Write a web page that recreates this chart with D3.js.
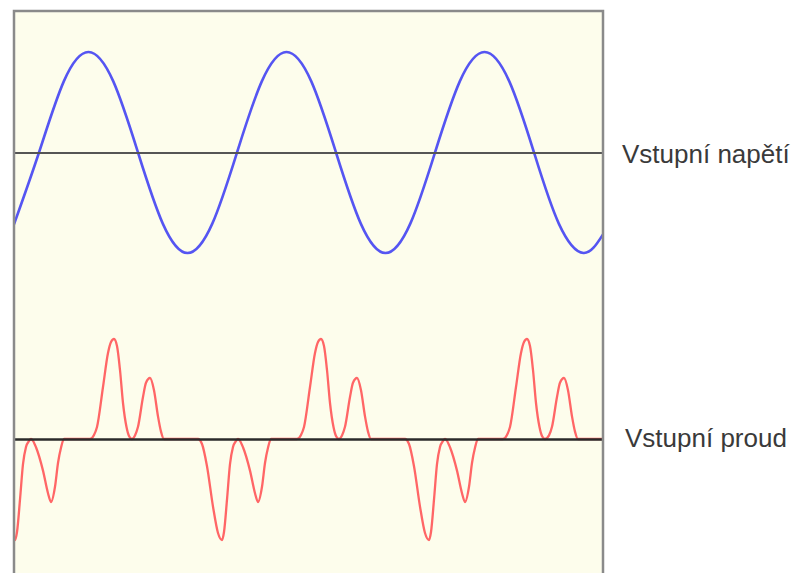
<!DOCTYPE html>
<html>
<head>
<meta charset="utf-8">
<script src="https://cdn.jsdelivr.net/npm/d3@7"></script>
<style>
    body { margin: 0; background: #fff; }
    svg { display: block; }
    .label { font-family: "Liberation Sans", Arial, sans-serif; font-size: 26px; fill: #3a3a3a; }
</style>
</head>
<body>
<div id="chart"></div>
<script>
// time in ms, voltage in V, current in A
const voltageTime = [0, 2.5, 4.98, 7.45, 9.93, 12.4, 14.88, 17.35, 19.83, 22.3, 24.78, 27.25, 29.73,
    32.2, 34.68, 37.15, 39.63, 42.1, 44.58, 47.05, 49.53, 52.0, 54.48, 56.95, 58.9];
const voltageValues = [-232, 0, 230, 325, 230, 0, -230, -325, -230, 0, 230, 325, 230,
    0, -230, -325, -230, 0, 230, 325, 230, 0, -230, -325, -265];

const currentTime = [
    0, 0.1, 0.3, 0.6, 0.9, 1.2, 1.5, 1.7,
    1.9, 2.2, 2.9, 3.4, 3.7, 4.1, 4.4, 4.7, 5.0,
    7.6, 8.0, 8.3, 8.9, 9.4, 9.7, 10.0, 10.3, 10.6, 10.9, 11.25, 11.5, 11.8,
    12.1, 12.4, 12.9, 13.2, 13.6, 14.0, 14.4, 14.7, 15.0,
    18.4, 18.8, 19.3, 19.9, 20.4, 20.8, 21.0, 21.3, 21.6, 21.9, 22.2, 22.4,
    22.6, 22.9, 23.6, 24.1, 24.4, 24.8, 25.1, 25.4, 25.7,
    28.3, 28.7, 29.0, 29.6, 30.1, 30.4, 30.7, 31.0, 31.3, 31.6, 31.95, 32.2, 32.5,
    32.8, 33.1, 33.6, 33.9, 34.3, 34.7, 35.1, 35.4, 35.7,
    39.1, 39.5, 40.0, 40.6, 41.1, 41.5, 41.7, 42.0, 42.3, 42.6, 42.9, 43.1,
    43.3, 43.6, 44.3, 44.8, 45.1, 45.5, 45.8, 46.1, 46.4,
    48.9, 49.3, 49.6, 50.2, 50.7, 51.0, 51.3, 51.6, 51.9, 52.2, 52.55, 52.8, 53.1,
    53.5, 53.8, 54.3, 54.6, 55.0, 55.4, 55.8, 56.1, 56.4,
    58.9
];
const currentValues = [
    -5.0, -5.05, -4.65, -3.03, -1.26, -0.40, -0.10, 0,
    -0.09, -0.41, -1.58, -2.71, -3.15, -2.39, -1.20, -0.44, 0,
    0, 0.2, 0.6, 2.6, 4.3, 4.85, 5.0, 4.65, 3.45, 1.8, 0.6, 0.15, 0,
    0.18, 0.61, 2.1, 2.81, 3.05, 2.44, 1.13, 0.37, 0,
    0, -0.25, -1.36, -3.38, -4.70, -5.05, -4.65, -3.03, -1.26, -0.40, -0.10, 0,
    -0.09, -0.41, -1.58, -2.71, -3.15, -2.39, -1.20, -0.44, 0,
    0, 0.2, 0.6, 2.6, 4.3, 4.85, 5.0, 4.65, 3.45, 1.8, 0.6, 0.15, 0,
    0.18, 0.61, 2.1, 2.81, 3.05, 2.44, 1.13, 0.37, 0,
    0, -0.25, -1.36, -3.38, -4.70, -5.05, -4.65, -3.03, -1.26, -0.40, -0.10, 0,
    -0.09, -0.41, -1.58, -2.71, -3.15, -2.39, -1.20, -0.44, 0,
    0, 0.2, 0.6, 2.6, 4.3, 4.85, 5.0, 4.65, 3.45, 1.8, 0.6, 0.15, 0,
    0.18, 0.61, 2.1, 2.81, 3.05, 2.44, 1.13, 0.37, 0,
    0
];

const labels = ["Vstupní napětí", "Vstupní proud"];

const width = 794, height = 573;
const panel = { left: 14, top: 11, right: 603 };

const svg = d3.select("#chart").append("svg")
    .attr("width", width)
    .attr("height", height);

const x = d3.scaleLinear().domain([0, 58.9]).range([panel.left, panel.right]);
const yVoltage = d3.scaleLinear().domain([-325, 325]).range([253, 52]);
const yCurrent = d3.scaleLinear().domain([-5, 5]).range([539, 339]);

// background panel, runs off the bottom of the picture
svg.append("rect")
    .attr("x", panel.left)
    .attr("y", panel.top)
    .attr("width", panel.right - panel.left)
    .attr("height", height + 20)
    .attr("fill", "#fdfdec");

svg.append("clipPath").attr("id", "clip")
    .append("rect")
    .attr("x", panel.left)
    .attr("y", panel.top)
    .attr("width", panel.right - panel.left)
    .attr("height", height);

const voltageLine = d3.line()
    .x((d, i) => x(voltageTime[i]))
    .y(d => yVoltage(d))
    .curve(d3.curveNatural);

const currentLine = d3.line()
    .x((d, i) => x(currentTime[i]))
    .y(d => yCurrent(d))
    .curve(d3.curveMonotoneX);

svg.append("path")
    .attr("clip-path", "url(#clip)")
    .attr("d", voltageLine(voltageValues))
    .attr("fill", "none")
    .attr("stroke", "#5555f2")
    .attr("stroke-width", 2.6);

svg.append("path")
    .attr("clip-path", "url(#clip)")
    .attr("d", currentLine(currentValues))
    .attr("fill", "none")
    .attr("stroke", "#ff6666")
    .attr("stroke-width", 2.3);

// zero lines drawn as bare axes, on top of the curves
const zeroAxis = d3.axisBottom(x).tickValues([]).tickSizeOuter(0);

svg.append("g")
    .attr("transform", `translate(0,${yVoltage(0)})`)
    .call(zeroAxis)
    .call(g => g.select(".domain").attr("stroke", "#555").attr("stroke-width", 2.2));

svg.append("g")
    .attr("transform", `translate(0,${yCurrent(0)})`)
    .call(zeroAxis)
    .call(g => g.select(".domain").attr("stroke", "#2a2a2a").attr("stroke-width", 2.5));

// panel border: top, left and right sides only
svg.append("path")
    .attr("d", `M${panel.left},${height + 10}V${panel.top}H${panel.right}V${height + 10}`)
    .attr("fill", "none")
    .attr("stroke", "#8a8a8a")
    .attr("stroke-width", 2.5);

svg.append("text")
    .attr("class", "label")
    .attr("x", 622)
    .attr("y", yVoltage(0) + 10.5)
    .text(labels[0]);

svg.append("text")
    .attr("class", "label")
    .attr("x", 625)
    .attr("y", yCurrent(0) + 7.5)
    .text(labels[1]);
</script>
</body>
</html>
